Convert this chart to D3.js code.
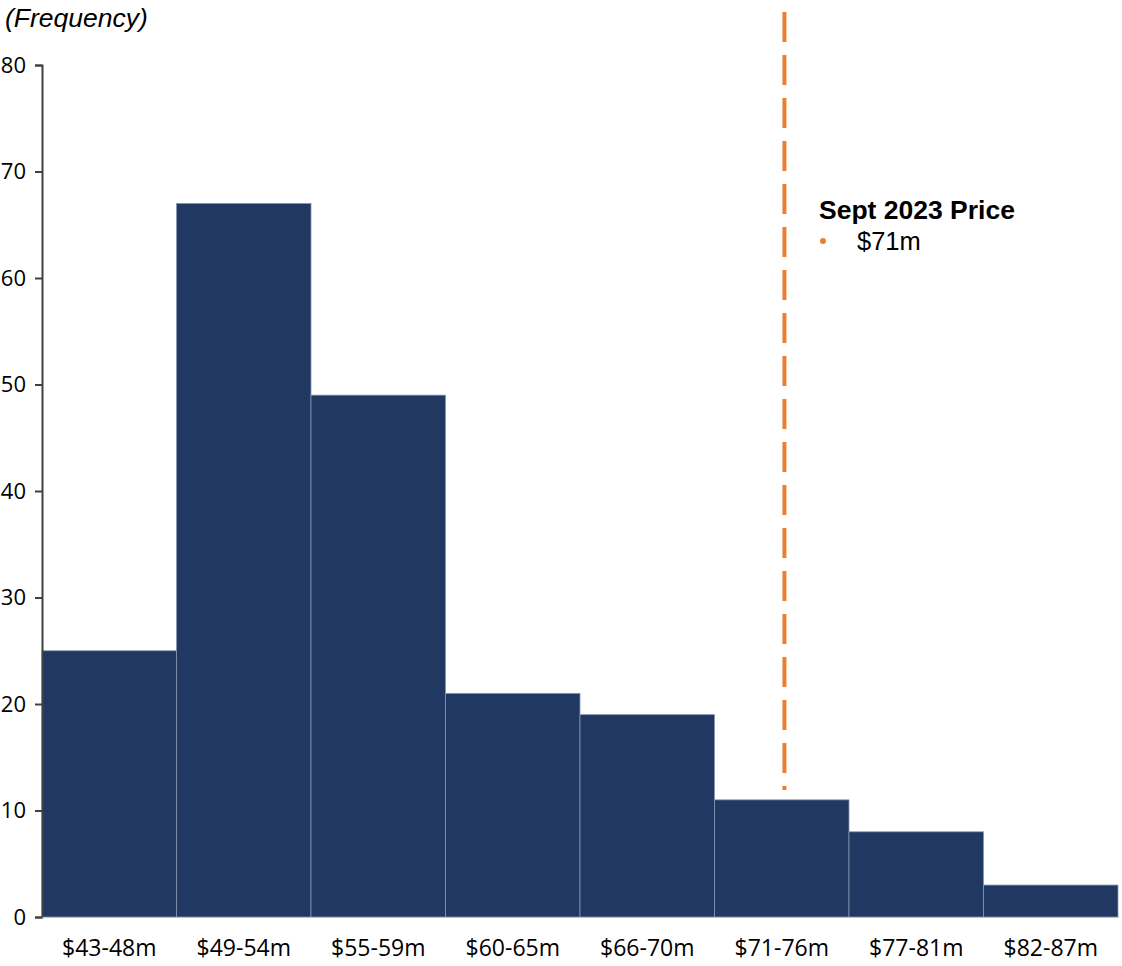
<!DOCTYPE html>
<html><head><meta charset="utf-8">
<script src="https://cdn.jsdelivr.net/npm/d3@7"></script>
<style>body{margin:0;background:#fff}svg{display:block}</style>
</head><body>
<svg id="c" width="1122" height="966"></svg>
<script>
const categories = ["$43-48m","$49-54m","$55-59m","$60-65m","$66-70m","$71-76m","$77-81m","$82-87m"];
const frequencies = [25, 67, 49, 21, 19, 11, 8, 3];
const yTicks = [0,10,20,30,40,50,60,70,80];
const markerCategory = "$71-76m";
const legendTitle = "Sept 2023 Price";
const legendItem = "$71m";
const yLabel = "(Frequency)";

(function(){
const svg = d3.select("#c");
const mLeft = 42, mRight = 1118, mTop = 65, mBottom = 917;
const x = d3.scaleBand().domain(categories).range([mLeft, mRight]).padding(0);
const y = d3.scaleLinear().domain([0, 80]).range([mBottom, mTop]);

svg.append("g").selectAll("rect").data(frequencies).join("rect")
  .attr("x", (d,i) => x(categories[i]))
  .attr("y", d => y(d))
  .attr("width", x.bandwidth())
  .attr("height", d => y(0) - y(d))
  .attr("fill", "#213862")
  .attr("stroke", "#8796b0")
  .attr("stroke-width", 0.8);

const yAxis = svg.append("g").attr("transform", `translate(${mLeft},0)`)
  .call(d3.axisLeft(y).tickValues(yTicks).tickSize(7).tickPadding(9).tickSizeOuter(7));
yAxis.attr("font-size", null).attr("font-family", null);
yAxis.select(".domain").attr("stroke", "#404040").attr("stroke-width", 2);
yAxis.selectAll(".tick line").attr("stroke", "#404040").attr("stroke-width", 2);
yAxis.selectAll("text").style("font-family", "'Open Sans', sans-serif").style("font-size", "22px").attr("fill", "#000");

const xAxis = svg.append("g").attr("transform", `translate(0,${mBottom})`)
  .call(d3.axisBottom(x).tickSize(0).tickPadding(23));
xAxis.attr("font-size", null).attr("font-family", null);
xAxis.select(".domain").attr("stroke", "#b8c0d0").attr("stroke-width", 1);
xAxis.selectAll("text").style("font-family", "'Open Sans', sans-serif").style("font-size", "23px").attr("fill", "#000");

svg.append("text").attr("x", 5).attr("y", 27)
  .style("font-family", "'Liberation Sans', Arial, sans-serif").style("font-style", "italic")
  .style("font-size", "26.5px").text(yLabel);

const mx = x(markerCategory) + x.bandwidth() * 0.52;
svg.append("line").attr("x1", mx).attr("x2", mx).attr("y1", 12).attr("y2", 790)
  .attr("stroke", "#ED7D31").attr("stroke-width", 4).attr("stroke-dasharray", "30 13");

svg.append("text").attr("x", 819).attr("y", 219)
  .style("font-family", "'Liberation Sans', Arial, sans-serif").style("font-weight", "bold")
  .style("font-size", "26.5px").text(legendTitle);
svg.append("circle").attr("cx", 823).attr("cy", 241).attr("r", 3).attr("fill", "#ED7D31");
svg.append("text").attr("x", 857).attr("y", 250)
  .style("font-family", "'Liberation Sans', Arial, sans-serif")
  .style("font-size", "25.5px").text(legendItem);
})();
</script>
</body></html>
